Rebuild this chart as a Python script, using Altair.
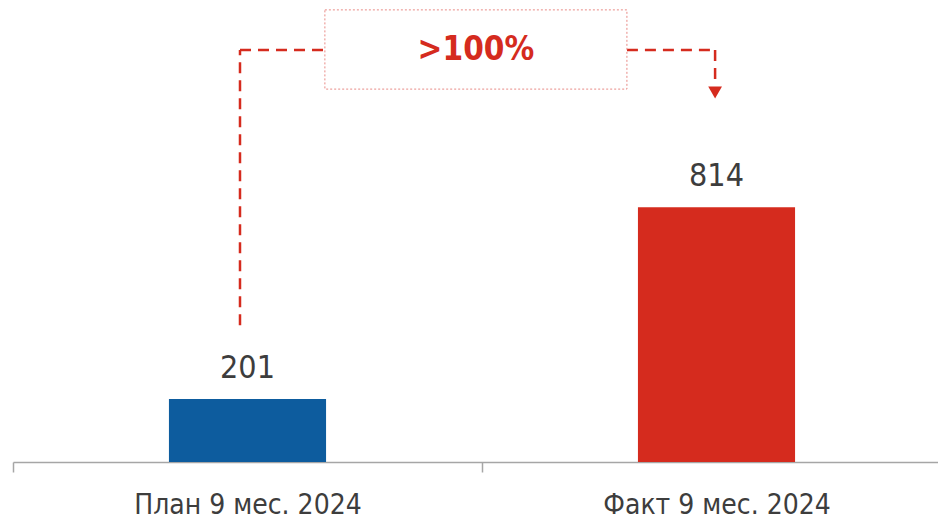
import altair as alt
import pandas as pd

# ---- data ----
categories = ["План 9 мес. 2024", "Факт 9 мес. 2024"]
values = [201, 814]
bar_colors = ["#0D5C9E", "#D52B1E"]
change_label = ">100%"

# ---- styling / layout constants ----
FONT = "DejaVu Sans Condensed, Liberation Sans Narrow, sans-serif"
RED = "#D52B1E"
TEXT_COLOR = "#3d3d3d"
AXIS_COLOR = "#a6a6a6"
Y_MAX = 1450
W, H = 925, 454
RANGE_W = 938

# annotation geometry (x in band units, y in data units)
LEFT_LEG_X, RIGHT_LEG_X = 0.484, 1.497
BOX_X0, BOX_X1 = 0.665, 1.309
TEXT_X = 0.987
LEVEL_Y = 1316
LEFT_LEG_BOTTOM = 437
RIGHT_LEG_BOTTOM = 1201
BOX_Y0, BOX_Y1 = 1191, 1444
ARROW_Y = 1180

df = pd.DataFrame({"cat": categories, "val": values, "color": bar_colors})

xscale = alt.Scale(domain=categories, range=[0, RANGE_W], paddingInner=0, paddingOuter=0)
yscale = alt.Scale(domain=[0, Y_MAX])
ascale = alt.Scale(domain=[0, 2], range=[0, RANGE_W])

bars = alt.Chart(df).mark_bar(width={"band": 0.335}).encode(
    x=alt.X("cat:N", sort=categories, scale=xscale,
            axis=alt.Axis(title=None, labelAngle=0, tickBand="extent", grid=False,
                          domainColor=AXIS_COLOR, domainWidth=1.5,
                          tickColor=AXIS_COLOR, tickWidth=1.5, tickSize=10,
                          labelFont=FONT, labelFontSize=28, labelColor=TEXT_COLOR,
                          labelLimit=0,
                          labelBaseline="alphabetic", labelPadding=41)),
    y=alt.Y("val:Q", scale=yscale, axis=None),
    color=alt.Color("color:N", scale=None, legend=None),
)

value_labels = alt.Chart(df).mark_text(
    font=FONT, fontSize=32, color=TEXT_COLOR, baseline="alphabetic", dy=-21
).encode(
    x=alt.X("cat:N", sort=categories, scale=xscale, axis=None),
    y=alt.Y("val:Q", scale=yscale, axis=None),
    text=alt.Text("val:Q"),
)

seg_df = pd.DataFrame({
    "x": [LEFT_LEG_X, LEFT_LEG_X, BOX_X1, RIGHT_LEG_X],
    "x2": [LEFT_LEG_X, BOX_X0, RIGHT_LEG_X, RIGHT_LEG_X],
    "y": [LEFT_LEG_BOTTOM, LEVEL_Y, LEVEL_Y, LEVEL_Y],
    "y2": [LEVEL_Y, LEVEL_Y, LEVEL_Y, RIGHT_LEG_BOTTOM],
})

segments = alt.Chart(seg_df).mark_rule(
    color=RED, strokeWidth=2.5, strokeDash=[11, 7]
).encode(
    x=alt.X("x:Q", scale=ascale, axis=None),
    x2="x2:Q",
    y=alt.Y("y:Q", scale=yscale, axis=None),
    y2="y2:Q",
)

box_df = pd.DataFrame({"x": [BOX_X0], "x2": [BOX_X1], "y": [BOX_Y0], "y2": [BOX_Y1]})
box = alt.Chart(box_df).mark_rect(
    fill="white", stroke="#E88A85", strokeWidth=1, strokeDash=[2, 2]
).encode(
    x=alt.X("x:Q", scale=ascale, axis=None),
    x2="x2:Q",
    y=alt.Y("y:Q", scale=yscale, axis=None),
    y2="y2:Q",
)

txt_df = pd.DataFrame({"x": [TEXT_X], "y": [LEVEL_Y], "t": [change_label]})
change_text = alt.Chart(txt_df).mark_text(
    font=FONT, fontSize=33, fontWeight="bold", color=RED, baseline="middle"
).encode(
    x=alt.X("x:Q", scale=ascale, axis=None),
    y=alt.Y("y:Q", scale=yscale, axis=None),
    text="t:N",
)

arrow_df = pd.DataFrame({"x": [RIGHT_LEG_X], "y": [ARROW_Y]})
arrow = alt.Chart(arrow_df).mark_point(
    shape="triangle-down", filled=True, color=RED, opacity=1, size=190
).encode(
    x=alt.X("x:Q", scale=ascale, axis=None),
    y=alt.Y("y:Q", scale=yscale, axis=None),
)

chart = alt.layer(bars, value_labels, segments, box, change_text, arrow).resolve_scale(
    x="independent"
).properties(
    width=W, height=H,
    autosize=alt.AutoSizeParams(type="none"),
    padding={"left": 5, "top": 0, "right": 0, "bottom": 62},
).configure_view(stroke=None)

chart.save("out.html", embed_options={"renderer": "svg", "actions": False})
